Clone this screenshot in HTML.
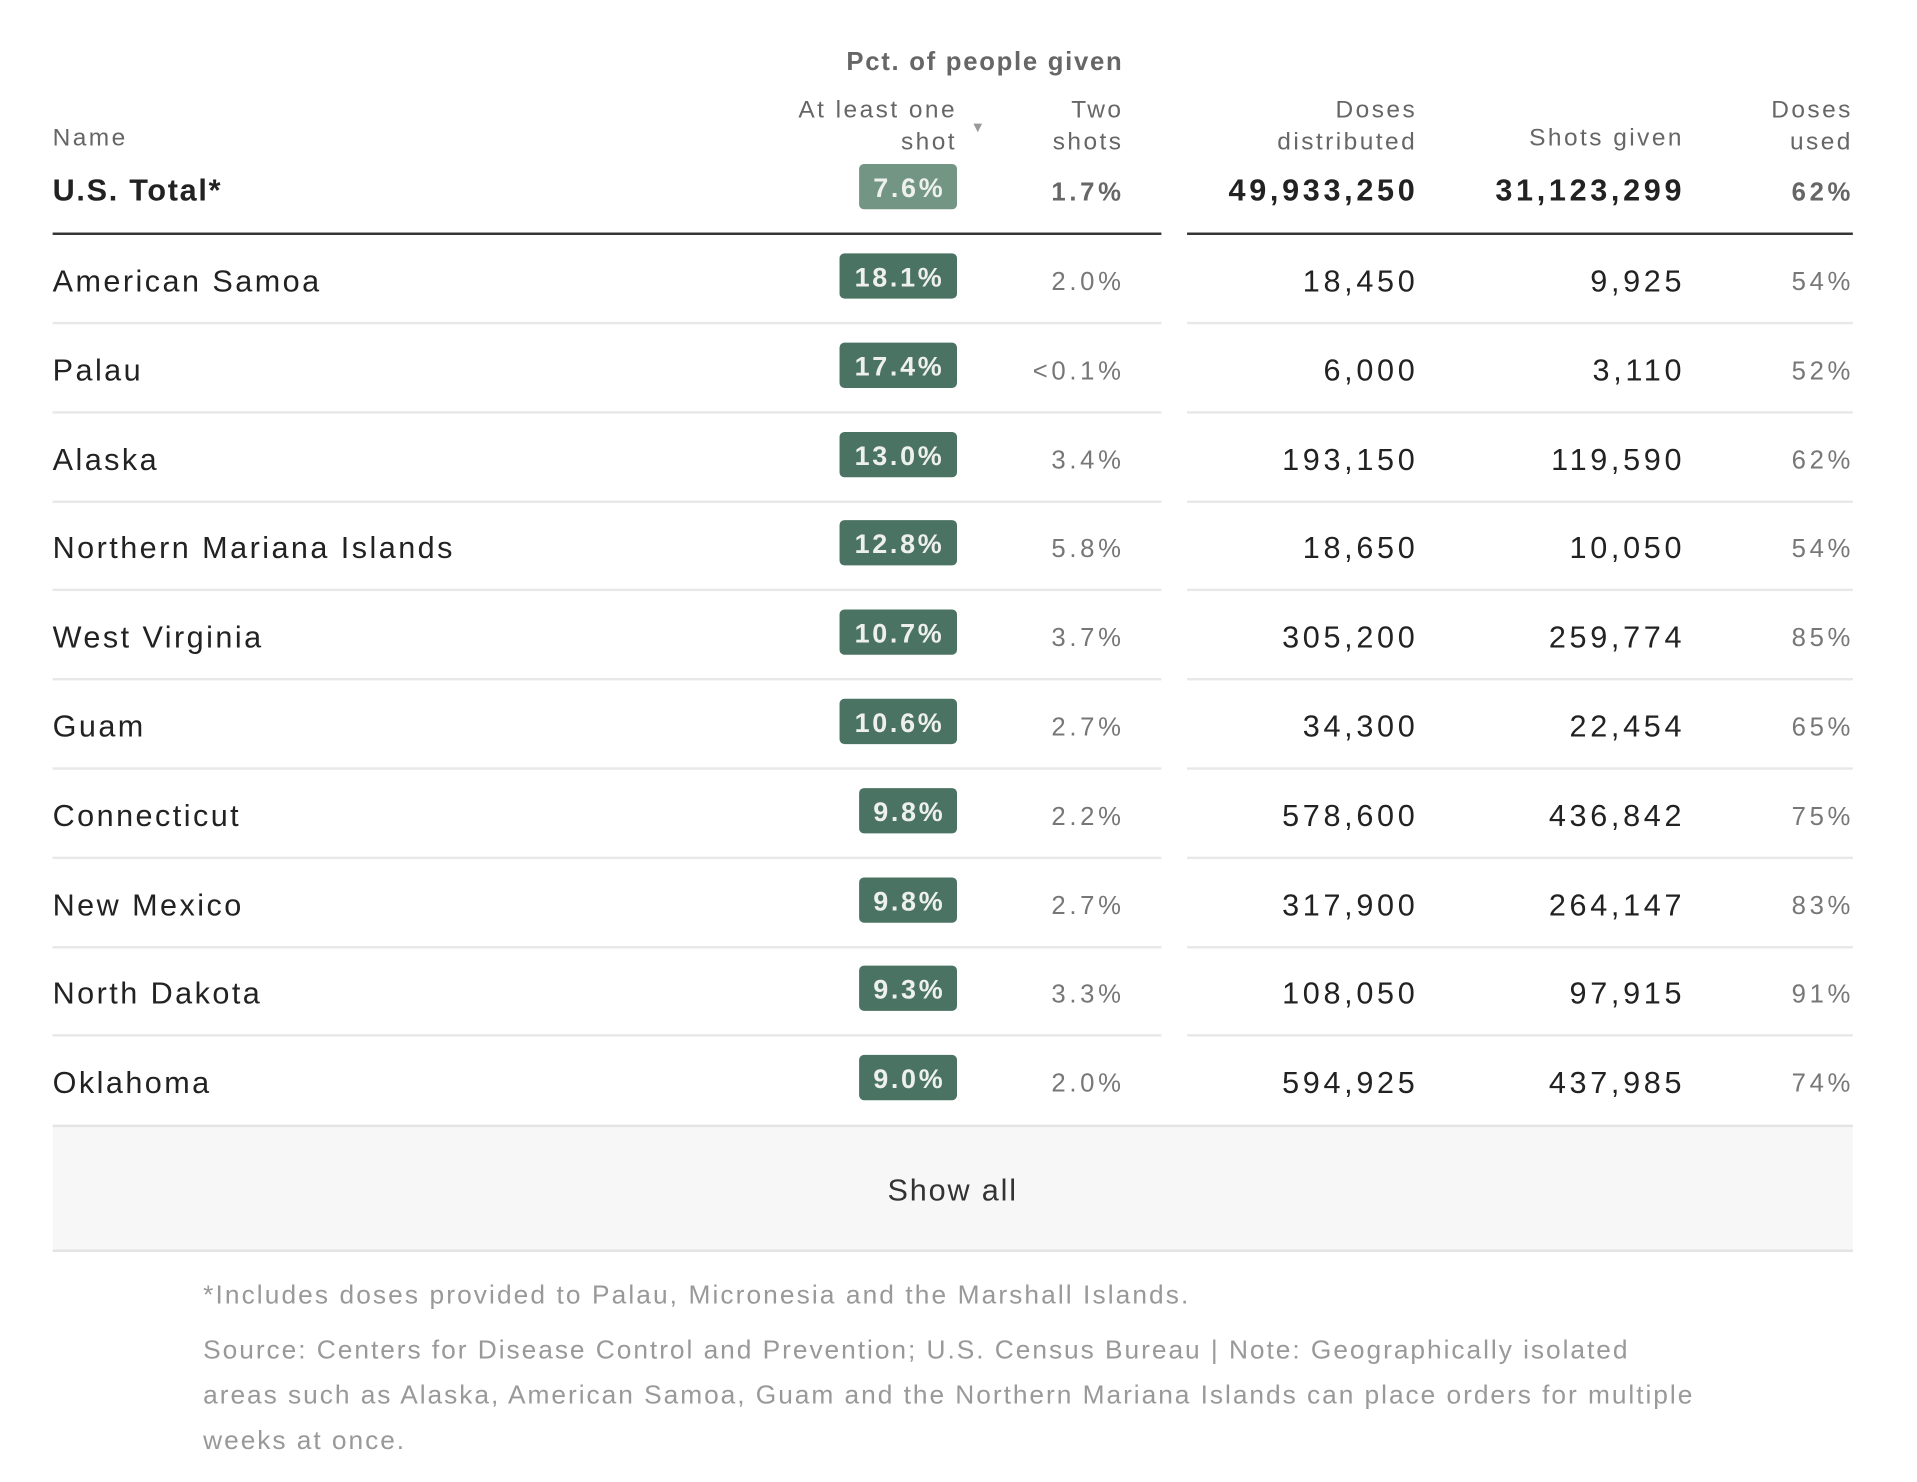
<!DOCTYPE html>
<html><head><meta charset="utf-8">
<style>
html,body{margin:0;padding:0;background:#fff;width:1917px;height:1482px;overflow:hidden}
#wrap{position:absolute;left:0;top:0;width:1566px;height:1211px;transform:scale(1.2238);transform-origin:0 0;font-family:"Liberation Sans",sans-serif}
.t{position:absolute;white-space:nowrap;line-height:1}
.r{text-align:right}
.hd{font-size:20px;color:#666;letter-spacing:2px}
.badge{position:absolute;background:#4b7363;color:#eef0ee;font-weight:bold;font-size:22px;letter-spacing:2.2px;border-radius:4px;height:37px;line-height:39px;text-align:center;text-indent:2px}
.line{position:absolute;height:2px;background:#e8e8e8}
</style></head><body>
<div id="wrap">
  <div class="t r" style="right:648px;top:40px;font-size:21px;letter-spacing:1.4px;font-weight:bold;color:#666">Pct. of people given</div>
  <div class="t hd" style="left:43px;top:103px">Name</div>
  <div class="t hd r" style="right:784px;top:77px;line-height:26px">At least one<br>shot</div>
  <div class="t" style="left:793px;top:98px;font-size:12px;color:#999">▼</div>
  <div class="t hd r" style="right:648px;top:77px;line-height:26px">Two<br>shots</div>
  <div class="t hd r" style="right:408px;top:77px;line-height:26px">Doses<br>distributed</div>
  <div class="t hd r" style="right:190px;top:103px">Shots given</div>
  <div class="t hd r" style="right:52px;top:77px;line-height:26px">Doses<br>used</div>

  <div class="t" style="left:43px;top:144px;font-size:25px;letter-spacing:1.4px;font-weight:bold;color:#222">U.S. Total*</div>
  <div class="badge" style="left:702px;width:80px;top:134px;background:#739684">7.6%</div>
  <div class="t r" style="right:647px;top:147px;font-size:21px;letter-spacing:3px;font-weight:bold;color:#666">1.7%</div>
  <div class="t r" style="right:407px;top:144px;font-size:25px;letter-spacing:3px;font-weight:bold;color:#222">49,933,250</div>
  <div class="t r" style="right:189px;top:144px;font-size:25px;letter-spacing:3px;font-weight:bold;color:#222">31,123,299</div>
  <div class="t r" style="right:51px;top:147px;font-size:21px;letter-spacing:3px;font-weight:bold;color:#666">62%</div>
  <div class="line" style="left:43px;width:906px;top:190px;background:#333"></div>
  <div class="line" style="left:970px;width:544px;top:190px;background:#333"></div>

  <div id="rows"></div>

  <div style="position:absolute;left:43px;width:1471px;top:919px;height:100px;background:#f7f7f7;border-top:2px solid #e4e4e4;border-bottom:2px solid #e4e4e4;text-align:center;line-height:104px;font-size:25px;letter-spacing:1.5px;color:#333">Show all</div>

  <div class="t" style="left:166px;top:1048px;font-size:21.5px;letter-spacing:1.7px;color:#999">*Includes doses provided to Palau, Micronesia and the Marshall Islands.</div>
  <div class="t" style="left:166px;top:1085px;font-size:21.5px;letter-spacing:1.6px;color:#999;line-height:37px">Source: Centers for Disease Control and Prevention; U.S. Census Bureau | Note: Geographically isolated<br>areas such as Alaska, American Samoa, Guam and the Northern Mariana Islands can place orders for multiple<br>weeks at once.</div>
</div>
<script>
const names=["American Samoa","Palau","Alaska","Northern Mariana Islands","West Virginia","Guam","Connecticut","New Mexico","North Dakota","Oklahoma"];
const oneShot=["18.1%","17.4%","13.0%","12.8%","10.7%","10.6%","9.8%","9.8%","9.3%","9.0%"];
const twoShots=["2.0%","<0.1%","3.4%","5.8%","3.7%","2.7%","2.2%","2.7%","3.3%","2.0%"];
const distributed=["18,450","6,000","193,150","18,650","305,200","34,300","578,600","317,900","108,050","594,925"];
const given=["9,925","3,110","119,590","10,050","259,774","22,454","436,842","264,147","97,915","437,985"];
const used=["54%","52%","62%","54%","85%","65%","75%","83%","91%","74%"];
const rows=document.getElementById('rows');
function add(html,style,cls){const d=document.createElement('div');d.className=cls;d.style.cssText=style;d.textContent=html;rows.appendChild(d);return d;}
for(let i=0;i<names.length;i++){
  const cy=230+i*72.8;
  let e=add(names[i],`left:43px;top:${cy-12}px;font-size:25px;letter-spacing:2px;color:#222`,'t');
  
  
  const w=oneShot[i].length>4?96:80;
  e=add(oneShot[i],`left:${782-w}px;width:${w}px;top:${cy-23}px`,'badge');
  
  
  e=add(twoShots[i],`right:647px;top:${cy-10}px;font-size:21px;letter-spacing:3px;color:#777`,'t r');
  
  
  e=add(distributed[i],`right:407px;top:${cy-12}px;font-size:25px;letter-spacing:3px;color:#222`,'t r');
  
  
  e=add(given[i],`right:189px;top:${cy-12}px;font-size:25px;letter-spacing:3px;color:#222`,'t r');
  
  
  e=add(used[i],`right:51px;top:${cy-10}px;font-size:21px;letter-spacing:3px;color:#777`,'t r');
  
  
  if(i<names.length-1){
    e=add('',`left:43px;width:906px;top:${cy+33}px`,'line');
    
    
    e=add('',`left:970px;width:544px;top:${cy+33}px`,'line');
    
    
  }
}
</script>
</body></html>
